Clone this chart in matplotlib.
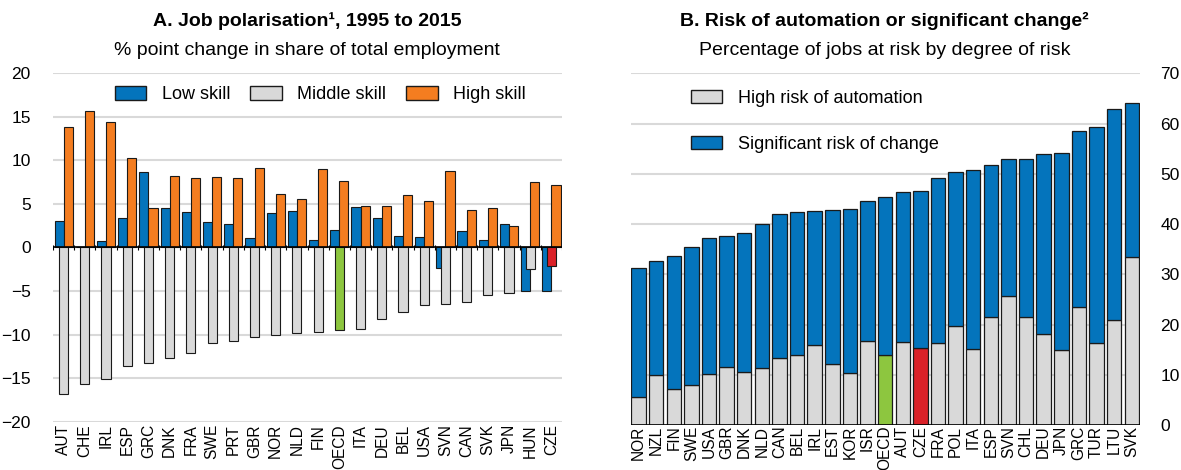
import numpy as np
import matplotlib
matplotlib.use("Agg")
from matplotlib import pyplot as plt
from matplotlib.patches import Patch

plt.rcParams["font.family"] = ["Liberation Sans", "DejaVu Sans"]

# panel A: job polarisation, 1995 to 2015
pol_countries = ["AUT", "CHE", "IRL", "ESP", "GRC", "DNK", "FRA", "SWE", "PRT", "GBR",
                 "NOR", "NLD", "FIN", "OECD", "ITA", "DEU", "BEL", "USA", "SVN", "CAN",
                 "SVK", "JPN", "HUN", "CZE"]
low_skill = [3.0, 0.0, 0.7, 3.4, 8.7, 4.5, 4.1, 2.95, 2.7, 1.1,
             3.9, 4.2, 0.8, 1.95, 4.6, 3.4, 1.35, 1.2, -2.3, 1.85,
             0.9, 2.65, -5.0, -5.0]
middle_skill = [-16.8, -15.6, -15.1, -13.6, -13.2, -12.7, -12.1, -11.0, -10.7, -10.2,
                -10.0, -9.8, -9.7, -9.5, -9.35, -8.2, -7.4, -6.6, -6.5, -6.2,
                -5.4, -5.2, -2.5, -2.1]
high_skill = [13.8, 15.6, 14.4, 10.2, 4.5, 8.2, 8.0, 8.05, 8.0, 9.1,
              6.1, 5.5, 9.0, 7.6, 4.8, 4.75, 6.0, 5.3, 8.8, 4.3,
              4.5, 2.5, 7.5, 7.1]

# panel B: risk of automation or significant change
risk_countries = ["NOR", "NZL", "FIN", "SWE", "USA", "GBR", "DNK", "NLD", "CAN", "BEL",
                  "IRL", "EST", "KOR", "ISR", "OECD", "AUT", "CZE", "FRA", "POL", "ITA",
                  "ESP", "SVN", "CHL", "DEU", "JPN", "GRC", "TUR", "LTU", "SVK"]
high_risk = [5.6, 9.9, 7.1, 7.9, 10.2, 11.6, 10.6, 11.3, 13.4, 13.9,
             15.9, 12.1, 10.4, 16.7, 13.9, 16.5, 15.4, 16.3, 19.7, 15.2,
             21.6, 25.6, 21.5, 18.2, 15.0, 23.4, 16.3, 20.9, 33.5]
total_risk = [31.3, 32.7, 33.6, 35.4, 37.2, 37.6, 38.2, 40.0, 42.0, 42.5,
              42.7, 42.9, 43.1, 44.7, 45.5, 46.3, 46.6, 49.1, 50.3, 50.7,
              51.8, 52.9, 53.0, 54.0, 54.2, 58.6, 59.4, 62.9, 64.2]
change_risk = [t - h for t, h in zip(total_risk, high_risk)]

BLUE = "#0474BC"
ORANGE = "#F47D20"
GREY = "#D9D9D9"
GREEN = "#8DC63F"
RED = "#DA2128"
EDGE = "#1a1a1a"
GRID = "#d9d9d9"
FS = 12.5
XFS = 11.2


def highlight(countries, base):
    cols = []
    for c in countries:
        if c == "OECD":
            cols.append(GREEN)
        elif c == "CZE":
            cols.append(RED)
        else:
            cols.append(base)
    return cols


fig = plt.figure(figsize=(11.81, 4.70), dpi=100)

# ---- panel A
axA = fig.add_axes([0.0449, 0.102, 0.431, 0.743])
x = np.arange(len(pol_countries))
w = 0.43
axA.bar(x - w / 2, low_skill, w, color=BLUE, edgecolor=EDGE, linewidth=0.8, zorder=2)
axA.bar(x + w / 2, high_skill, w, color=ORANGE, edgecolor=EDGE, linewidth=0.8, zorder=2)
axA.bar(x, middle_skill, w, color=highlight(pol_countries, GREY), edgecolor=EDGE,
        linewidth=0.8, zorder=3)
axA.axhline(0, color="black", linewidth=1.2, zorder=4)
axA.vlines(np.arange(-0.5, len(pol_countries)), -0.3, 0.3, color="black", linewidth=0.8, zorder=4)
axA.set_xlim(-0.5, len(pol_countries) - 0.5)
axA.set_ylim(-20, 20)
axA.set_yticks(np.arange(-20, 21, 5))
axA.set_xticks(x)
axA.set_xticklabels(pol_countries, rotation=90, fontsize=XFS)
axA.grid(axis="y", color=GRID, linewidth=1.5, zorder=0)
axA.set_axisbelow(True)
for s in axA.spines.values():
    s.set_visible(False)
axA.tick_params(axis="both", length=0)
axA.tick_params(axis="y", pad=16, labelsize=FS)
axA.tick_params(axis="x", pad=1.5)
handlesA = [Patch(facecolor=BLUE, edgecolor=EDGE, label="Low skill"),
            Patch(facecolor=GREY, edgecolor=EDGE, label="Middle skill"),
            Patch(facecolor=ORANGE, edgecolor=EDGE, label="High skill")]
axA.legend(handles=handlesA, loc="center", bbox_to_anchor=(0.525, 0.937), ncol=3,
           frameon=False, fontsize=FS + 0.5, handlelength=1.75, handleheight=0.8,
           handletextpad=0.85, columnspacing=1.1, borderpad=0)
fig.text(0.26, 0.955, "A. Job polarisation\u00b9, 1995 to 2015", ha="center", va="center",
         fontsize=14, fontweight="bold")
fig.text(0.26, 0.893, "% point change in share of total employment", ha="center",
         va="center", fontsize=14)

# ---- panel B
axB = fig.add_axes([0.534, 0.0957, 0.431, 0.748])
xb = np.arange(len(risk_countries))
wb = 0.82
axB.bar(xb, high_risk, wb, color=highlight(risk_countries, GREY), edgecolor=EDGE,
        linewidth=0.9, zorder=2)
axB.bar(xb, change_risk, wb, bottom=high_risk, color=BLUE, edgecolor=EDGE,
        linewidth=0.9, zorder=2)
axB.axhline(0, color="black", linewidth=1.2, zorder=4)
axB.set_xlim(-0.45, len(risk_countries) - 0.55)
axB.set_ylim(0, 70)
axB.set_yticks(np.arange(0, 71, 10))
axB.set_xticks(xb)
axB.set_xticklabels(risk_countries, rotation=90, fontsize=XFS)
axB.yaxis.tick_right()
axB.grid(axis="y", color=GRID, linewidth=1.5, zorder=0)
axB.set_axisbelow(True)
for s in axB.spines.values():
    s.set_visible(False)
axB.tick_params(axis="both", length=0)
axB.tick_params(axis="y", pad=15, labelsize=FS)
axB.tick_params(axis="x", pad=0.5)
handlesB = [Patch(facecolor=GREY, edgecolor=EDGE, label="High risk of automation"),
            Patch(facecolor=BLUE, edgecolor=EDGE, label="Significant risk of change")]
axB.legend(handles=handlesB, loc="upper left", bbox_to_anchor=(0.1, 0.98),
           frameon=False, fontsize=FS + 0.5, handlelength=1.75, handleheight=0.8,
           handletextpad=0.85, labelspacing=1.6, borderpad=0)
fig.text(0.749, 0.955, "B. Risk of automation or significant change\u00b2", ha="center",
         va="center", fontsize=14, fontweight="bold")
fig.text(0.749, 0.893, "Percentage of jobs at risk by degree of risk", ha="center",
         va="center", fontsize=14)

fig.savefig("out.png", dpi=100)
